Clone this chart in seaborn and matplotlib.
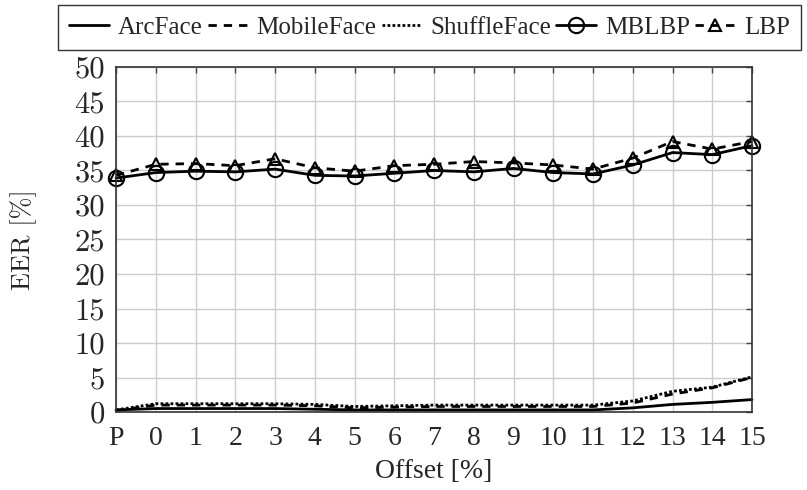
import numpy as np
import pandas as pd
import matplotlib
matplotlib.use("Agg")
import matplotlib.pyplot as plt
import seaborn as sns

offsets = ["P", "0", "1", "2", "3", "4", "5", "6", "7", "8", "9", "10", "11", "12", "13", "14", "15"]
arcface = [0.3, 0.5, 0.5, 0.5, 0.5, 0.4, 0.3, 0.3, 0.3, 0.3, 0.3, 0.3, 0.3, 0.6, 1.1, 1.4, 1.8]
mobileface = [0.2, 1.0, 1.0, 1.0, 1.0, 0.9, 0.6, 0.7, 0.8, 0.8, 0.8, 0.8, 0.8, 1.3, 2.6, 3.5, 5.0]
shuffleface = [0.3, 1.2, 1.2, 1.2, 1.2, 1.1, 0.8, 0.9, 1.0, 1.0, 1.0, 1.0, 1.0, 1.6, 3.0, 3.6, 5.1]
mblbp = [33.9, 34.7, 34.9, 34.8, 35.2, 34.3, 34.2, 34.6, 35.0, 34.8, 35.3, 34.7, 34.5, 35.8, 37.6, 37.3, 38.6]
lbp = [34.3, 35.9, 36.0, 35.7, 36.7, 35.4, 34.9, 35.7, 35.9, 36.3, 36.1, 35.8, 35.2, 36.8, 39.2, 38.1, 39.2]
yticks = [0, 5, 10, 15, 20, 25, 30, 35, 40, 45, 50]

sns.set_style("white")
plt.rcParams["font.family"] = ["DejaVu Serif"]

fig = plt.figure(figsize=(8.07, 4.90), dpi=100)
ax = fig.add_axes([116 / 807, 1 - 412 / 490, (752 - 116) / 807, (412 - 67) / 490])

pos = np.arange(len(offsets))
series = [
    ("ArcFace", arcface, "-", None),
    ("MobileFace", mobileface, (0, (3, 2.5)), None),
    ("ShuffleFace", shuffleface, (0, (1, 0.8)), None),
    ("MBLBP", mblbp, "-", "o"),
    ("LBP", lbp, (0, (3, 2.5)), "^"),
]
for name, vals, ls, mk in series:
    df = pd.DataFrame({"x": pos, "y": vals})
    kw = dict(marker=mk, markersize=11 if mk == "o" else 9, markerfacecolor="none",
              markeredgecolor="black", markeredgewidth=1.5) if mk else {}
    sns.lineplot(data=df, x="x", y="y", ax=ax, color="black", linewidth=2.0,
                 linestyle=ls, label=name, legend=False, clip_on=False, **kw)

ax.set_xlim(0, 16)
ax.set_ylim(0, 50)
ax.set_xticks(pos)
ax.set_xticklabels(offsets, fontsize=20, family="Liberation Serif")
ax.set_yticks(yticks)
ax.set_yticklabels([str(v) for v in yticks], fontsize=22, family="cmr10")
ax.grid(True, color="#cccccc", linewidth=1)
ax.tick_params(direction="in", length=4, width=1, color="#444444",
               top=True, right=True)
ax.tick_params(axis="x", pad=10)
ax.tick_params(axis="y", pad=8)
for s in ax.spines.values():
    s.set_color("#333333")
    s.set_linewidth(1.2)
ax.set_xlabel("Offset [%]", fontsize=20, family="Liberation Serif", labelpad=6)
ax.set_ylabel("EER [%]", fontsize=19, family="cmr10", labelpad=27)

handles, labels = ax.get_legend_handles_labels()
leg = fig.legend(handles, labels, ncol=5, loc="upper left",
                 bbox_to_anchor=(58 / 807, 1 - 5 / 490), frameon=True,
                 fancybox=False, edgecolor="black", handlelength=1.6,
                 handletextpad=0.35, columnspacing=0.2, borderpad=0.45,
                 borderaxespad=0,
                 prop={"family": "Liberation Serif", "size": 18})
leg.get_frame().set_linewidth(1.0)

fig.savefig("out.png", dpi=100)
